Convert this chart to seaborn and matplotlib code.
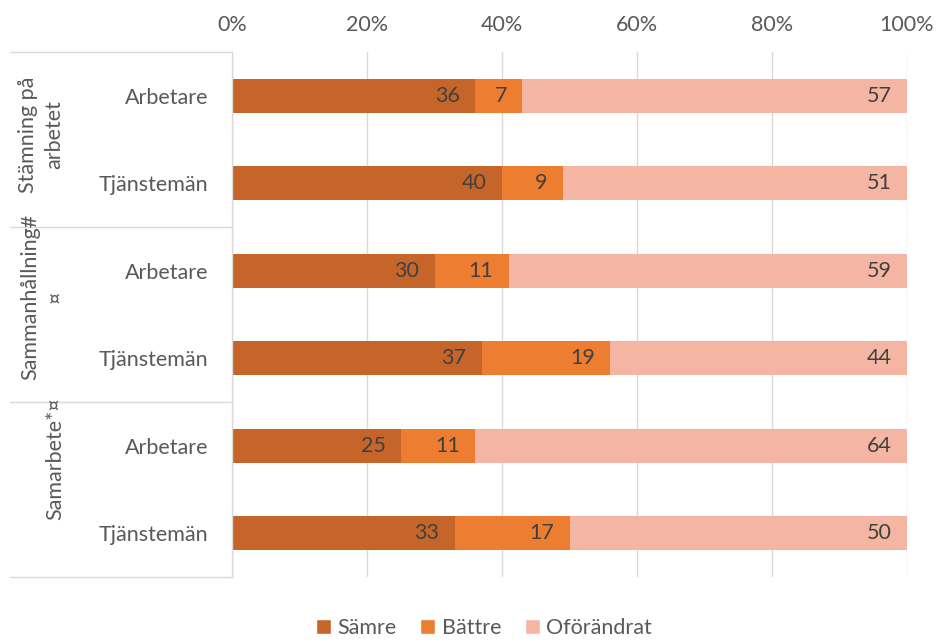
import matplotlib
matplotlib.use("Agg")
import matplotlib.pyplot as plt
import pandas as pd
import seaborn as sns
from matplotlib.patches import Patch

# data
groups = ["Stämning på\narbetet", "Sammanhållning#\n¤", "Samarbete*¤"]
roles = ["Arbetare", "Tjänstemän"]
samre = [36, 40, 30, 37, 25, 33]
battre = [7, 9, 11, 19, 11, 17]
oforandrat = [57, 51, 59, 44, 64, 50]
series_names = ["Sämre", "Bättre", "Oförändrat"]
colors = ["#C5652A", "#ED7D31", "#F4B6A2"]

rows = [f"{g}|{r}" for g in range(len(groups)) for r in roles]
row_labels = [r for g in groups for r in roles]

df = pd.DataFrame({"row": rows, "Sämre": samre, "Bättre": battre, "Oförändrat": oforandrat})
df["c1"] = df["Sämre"]
df["c2"] = df["Sämre"] + df["Bättre"]
df["c3"] = df["c2"] + df["Oförändrat"]

sns.set_style("white")
plt.rcParams["font.family"] = ["Lato", "DejaVu Sans"]
text_col = "#595959"
fs = 15.5

fig = plt.figure(figsize=(9.38, 6.42), dpi=100)
ax = fig.add_axes([232 / 938, 1 - 577 / 642, 675 / 938, 525 / 642])

# stacked bars drawn back to front with cumulative sums
for col, c in zip(["c3", "c2", "c1"], colors[::-1]):
    sns.barplot(data=df, x=col, y="row", order=rows, color=c, width=0.39,
                orient="h", ax=ax, saturation=1, edgecolor="none", linewidth=0)

# data labels, inside end of each segment
for i, row in df.iterrows():
    for val, end in [(row["Sämre"], row["c1"]), (row["Bättre"], row["c2"]),
                     (row["Oförändrat"], row["c3"])]:
        ax.annotate(str(val), (end, i), xytext=(-11, 0), textcoords="offset points",
                    ha="right", va="center", fontsize=fs, color="#404040")

ax.set_xlim(0, 100)
ax.set_ylim(len(rows) - 0.5, -0.5)
ax.set_xticks([0, 20, 40, 60, 80, 100])
ax.set_xticklabels([f"{t}%" for t in [0, 20, 40, 60, 80, 100]])
ax.xaxis.tick_top()
ax.tick_params(axis="x", length=0, pad=12, labelsize=fs, labelcolor=text_col)
ax.set_yticks(range(len(rows)))
ax.set_yticklabels(row_labels)
ax.tick_params(axis="y", length=0, pad=17, labelsize=fs, labelcolor=text_col)
ax.set_xlabel("")
ax.set_ylabel("")
ax.grid(axis="x", color="#D9D9D9", linewidth=1)
ax.set_axisbelow(True)
for s in ["top", "right", "bottom"]:
    ax.spines[s].set_visible(False)
ax.spines["left"].set_color("#D9D9D9")
ax.spines["left"].set_linewidth(1)

# group separators and labels on the left
for yy in [52, 227, 402, 577]:
    fig.add_artist(plt.Line2D([10 / 938, 232 / 938], [1 - yy / 642] * 2,
                              color="#D9D9D9", linewidth=1))
label_pos = [(41, 135), (43, 297), (55, 459)]
for g, (px, py) in zip(groups, label_pos):
    fig.text(px / 938, 1 - py / 642, g, rotation=90, ha="center", va="center",
             fontsize=fs, color=text_col, multialignment="center", linespacing=1.4)

handles = [Patch(facecolor=c, label=n) for c, n in zip(colors, series_names)]
fig.legend(handles=handles, loc="center", bbox_to_anchor=(484 / 938, 1 - 628 / 642),
           ncol=3, frameon=False, fontsize=fs, labelcolor=text_col,
           handlelength=0.7, handleheight=0.7, handletextpad=0.3, columnspacing=1.1)

fig.savefig("out.png", dpi=100)
